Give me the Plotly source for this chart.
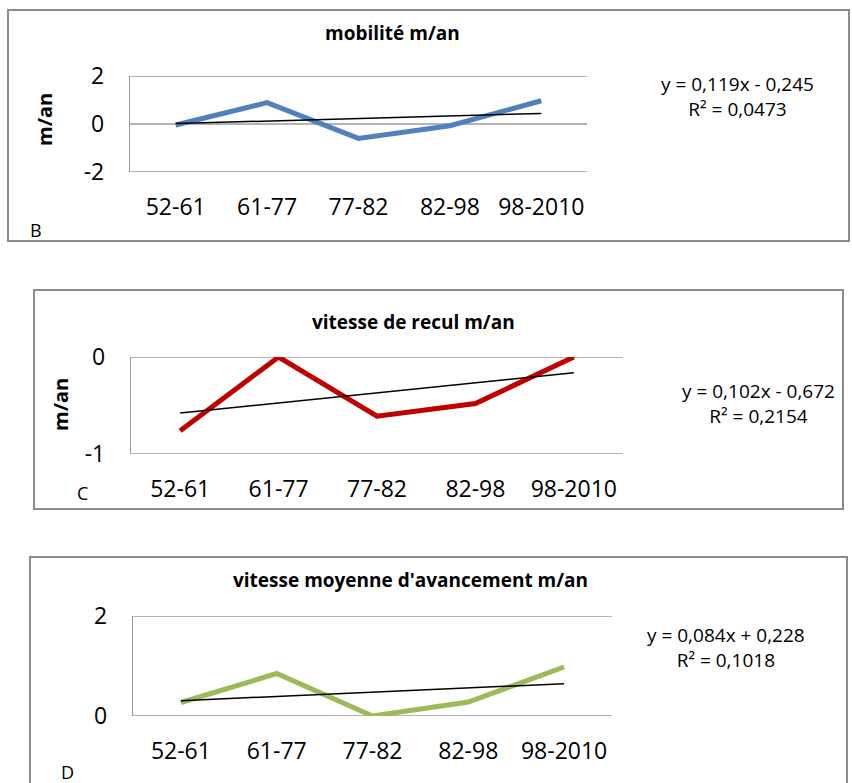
import numpy as np
import plotly.graph_objects as go

W, H = 852, 783

categories = ["52-61", "61-77", "77-82", "82-98", "98-2010"]

mobilite = [-0.04, 0.89, -0.60, -0.07, 0.97]
recul = [-0.76, 0.0, -0.61, -0.48, 0.0]
avancement = [0.27, 0.85, 0.0, 0.28, 0.98]

titles = ["mobilité m/an", "vitesse de recul m/an", "vitesse moyenne d'avancement m/an"]
equations = ["y = 0,119x - 0,245<br>R² = 0,0473",
             "y = 0,102x - 0,672<br>R² = 0,2154",
             "y = 0,084x + 0,228<br>R² = 0,1018"]
panel_letters = ["B", "C", "D"]

yticks_b = [-2, 0, 2]
yticks_c = [-1, 0]
yticks_d = [0, 2]

FONT = "Open Sans, Noto Sans, Liberation Sans, sans-serif"
GRID = "#9a9a9a"

def px_x(p):
    return p / W

def px_y(p):
    return 1 - p / H

panels = [
    dict(data=mobilite, color="#4F81BD", yticks=yticks_b, yrange=[-2, 2],
         plot=(130, 587, 76, 172), box=(8, 849, 10, 241),
         title_xy=(392, 33), eq_xy=(737, 96), letter_xy=(36, 230), ylab_xy=(45, 120)),
    dict(data=recul, color="#C00000", yticks=yticks_c, yrange=[-1, 0],
         plot=(131, 623, 357, 454), box=(34, 843, 290, 509),
         title_xy=(413, 322), eq_xy=(758, 403), letter_xy=(82, 493), ylab_xy=(60, 405)),
    dict(data=avancement, color="#9BBB59", yticks=yticks_d, yrange=[0, 2],
         plot=(133, 612, 616, 716), box=(30, 847, 557, 795),
         title_xy=(410, 580), eq_xy=(726, 647), letter_xy=(67, 772), ylab_xy=None),
]

fig = go.Figure()
shapes = []
annotations = []
xnum = np.arange(1, len(categories) + 1)

for i, p in enumerate(panels):
    n = "" if i == 0 else str(i + 1)
    xa, ya = "x" + n, "y" + n
    slope, intercept = np.polyfit(xnum, np.array(p["data"]), 1)
    trend = slope * xnum + intercept
    fig.add_trace(go.Scatter(x=categories, y=p["data"], mode="lines",
                             line=dict(color=p["color"], width=5),
                             xaxis=xa, yaxis=ya, showlegend=False, hoverinfo="skip"))
    fig.add_trace(go.Scatter(x=categories, y=trend, mode="lines",
                             line=dict(color="black", width=1.5),
                             xaxis=xa, yaxis=ya, showlegend=False, hoverinfo="skip"))
    x0, x1, y0, y1 = p["plot"]
    fig.layout["xaxis" + n] = dict(
        domain=[px_x(x0), px_x(x1)], anchor=ya, type="category",
        range=[-0.5, len(categories) - 0.5], showgrid=False, showline=False,
        zeroline=False, ticks="", ticklabelstandoff=19, automargin=False,
        tickfont=dict(family=FONT, size=23, color="black"), fixedrange=True)
    fig.layout["yaxis" + n] = dict(
        domain=[px_y(y1), px_y(y0)], anchor=xa, range=p["yrange"],
        tickvals=p["yticks"], ticktext=[str(v) for v in p["yticks"]],
        showgrid=False, showline=True, linecolor=GRID, linewidth=1.3,
        zeroline=False, ticks="", ticklabelstandoff=20, automargin=False,
        tickfont=dict(family=FONT, size=23, color="black"), fixedrange=True)
    # horizontal gridlines at each y tick (including range ends)
    for v in p["yticks"]:
        shapes.append(dict(type="line", xref=xa + " domain", yref=ya,
                           x0=0, x1=1, y0=v, y1=v,
                           line=dict(color=GRID, width=1.3), layer="below"))
    bx0, bx1, by0, by1 = p["box"]
    shapes.append(dict(type="rect", xref="paper", yref="paper",
                       x0=px_x(bx0), x1=px_x(bx1), y0=px_y(by1), y1=px_y(by0),
                       line=dict(color="#8c8c8c", width=2), fillcolor="rgba(0,0,0,0)",
                       layer="below"))
    tx, ty = p["title_xy"]
    annotations.append(dict(text="<b>%s</b>" % titles[i], x=px_x(tx), y=px_y(ty),
                            xref="paper", yref="paper", showarrow=False,
                            xanchor="center", yanchor="middle",
                            font=dict(family=FONT, size=19, color="black")))
    ex, ey = p["eq_xy"]
    annotations.append(dict(text=equations[i], x=px_x(ex), y=px_y(ey),
                            xref="paper", yref="paper", showarrow=False,
                            xanchor="center", yanchor="middle", align="center",
                            font=dict(family=FONT, size=19, color="black")))
    lx, ly = p["letter_xy"]
    annotations.append(dict(text=panel_letters[i], x=px_x(lx), y=px_y(ly),
                            xref="paper", yref="paper", showarrow=False,
                            xanchor="center", yanchor="middle",
                            font=dict(family=FONT, size=18, color="black")))
    if p["ylab_xy"] is not None:
        qx, qy = p["ylab_xy"]
        annotations.append(dict(text="<b>m/an</b>", x=px_x(qx), y=px_y(qy),
                                xref="paper", yref="paper", showarrow=False,
                                textangle=-90, xanchor="center", yanchor="middle",
                                font=dict(family=FONT, size=20, color="black")))

fig.update_layout(width=W, height=H, margin=dict(l=0, r=0, t=0, b=0, autoexpand=False),
                  paper_bgcolor="white", plot_bgcolor="white",
                  shapes=shapes, annotations=annotations, showlegend=False)

fig.write_html("out.html", config={"displayModeBar": False},
               post_script="document.body.style.margin='0';"
                           "document.body.style.overflow='hidden';")
